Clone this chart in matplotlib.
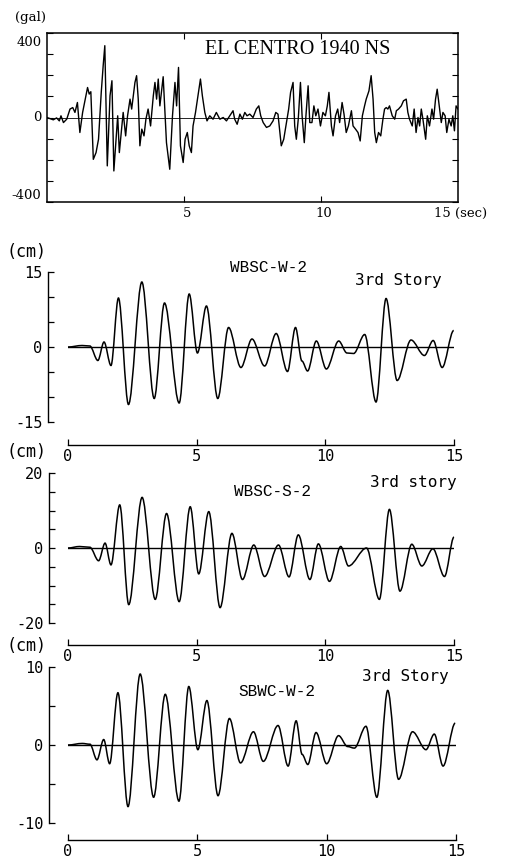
import numpy as np
import matplotlib
matplotlib.use("Agg")
import matplotlib.pyplot as plt
from matplotlib.path import Path
from matplotlib.patches import PathPatch

# ---------------- data ----------------
# EL CENTRO 1940 NS ground acceleration (gal)
acc_t = [0.00, 0.11, 0.23, 0.35, 0.45, 0.51, 0.60, 0.72, 0.84, 0.94, 1.02, 1.11, 1.20, 1.30,
         1.42, 1.48, 1.54, 1.60, 1.69, 1.79, 1.88, 1.98, 2.05, 2.11, 2.20, 2.30, 2.37, 2.44,
         2.52, 2.58, 2.64, 2.71, 2.78, 2.87, 2.94, 3.03, 3.09, 3.15, 3.21, 3.27, 3.33, 3.39,
         3.46, 3.54, 3.61, 3.69, 3.78, 3.88, 3.94, 4.00, 4.06, 4.12, 4.24, 4.36, 4.48, 4.58,
         4.67, 4.73, 4.80, 4.87, 4.97, 5.04, 5.12, 5.19, 5.27, 5.33, 5.42, 5.52, 5.60, 5.67,
         5.76, 5.84, 5.94, 6.06, 6.18, 6.31, 6.43, 6.55, 6.67, 6.79, 6.85, 6.94, 7.04, 7.13,
         7.22, 7.30, 7.40, 7.52, 7.64, 7.73, 7.80, 7.89, 8.01, 8.13, 8.25, 8.35, 8.43, 8.55,
         8.64, 8.74, 8.82, 8.89, 8.98, 9.04, 9.10, 9.17, 9.25, 9.31, 9.39, 9.45, 9.53, 9.59,
         9.67, 9.74, 9.81, 9.89, 9.98, 10.07, 10.16, 10.23, 10.29, 10.38, 10.44, 10.53, 10.61,
         10.68, 10.77, 10.84, 10.92, 11.00, 11.11, 11.17, 11.26, 11.35, 11.43, 11.51, 11.59,
         11.65, 11.75, 11.83, 11.90, 11.96, 12.02, 12.10, 12.18, 12.26, 12.32, 12.38, 12.44,
         12.50, 12.60, 12.69, 12.75, 12.83, 12.93, 13.01, 13.11, 13.17, 13.23, 13.33, 13.40,
         13.47, 13.54, 13.60, 13.66, 13.72, 13.82, 13.88, 13.96, 14.05, 14.11, 14.18, 14.24,
         14.33, 14.39, 14.45, 14.53, 14.59, 14.67, 14.75, 14.81, 14.87, 14.93, 15.00]
acc_v = [0, -5, -11, -2, -16, 8, -24, -8, 40, 47, 24, 71, -71, 24,
         103, 142, 111, 122, -198, -166, -103, 119, 245, 340, -229, 103, 174, -253,
         -103, 8, -166, -71, 24, -87, 8, 87, 40, 103, 166, 198, 87, -134,
         -55, -87, -8, 40, -40, 103, 166, 87, 182, 55, 193, -119, -245, 8,
         166, 55, 237, -134, -213, -103, -71, -134, -166, -40, 24, 111, 182, 103,
         24, -16, 8, -8, 24, -8, 0, -16, 8, 32, -8, -32, 16, -8,
         24, 8, 16, 0, 40, 55, 8, -24, -47, -40, -16, 24, 16, -134,
         -103, -24, 40, 119, 166, -40, -103, -8, 166, 8, -119, 8, 150, -24,
         -24, 55, 8, 40, -40, 24, 8, 55, 119, -40, -87, 8, 40,
         -24, 71, 16, -71, -40, 32, -40, -55, -71, -111, 8, 55,
         87, 126, 198, 87, -71, -119, -71, -87, -8, 40, 47, 40,
         55, 8, -8, 32, 40, 55, 79, 87, 24, -8, -40, 40,
         -71, 0, -40, 40, -8, -103, 8, -40, 40, -8, 87, 134,
         40, -24, 24, 8, -71, -8, -40, 8, -63, 55, 40]

# WBSC-W-2, 3rd Story displacement (cm): turning points
w2_t = [0.0, 0.55, 0.85, 1.16, 1.40, 1.67, 1.96, 2.35, 2.87, 3.35, 3.75, 4.32, 4.71, 5.03,
        5.38, 5.82, 6.24, 6.72, 7.15, 7.64, 8.09, 8.53, 8.84, 9.09, 9.31, 9.65, 10.04,
        10.52, 10.84, 11.10, 11.53, 11.97, 12.36, 12.79, 13.33, 13.85, 14.19, 14.54, 14.99]
w2_v = [0.0, 0.3, 0.2, -2.7, 1.0, -3.7, 9.8, -11.5, 13.0, -10.3, 8.8, -11.2, 10.6, -1.2,
        8.2, -10.3, 3.9, -4.1, 1.6, -3.8, 2.7, -4.9, 3.9, -2.8, -4.8, 1.2, -4.4,
        1.2, -1.2, -1.3, 2.5, -11.0, 9.7, -6.7, 1.4, -1.7, 1.3, -4.1, 3.3]

# WBSC-S-2, 3rd story displacement (cm): turning points
s2_t = [0.0, 0.45, 0.85, 1.19, 1.44, 1.67, 2.01, 2.36, 2.88, 3.39, 3.83, 4.32, 4.75, 5.08,
        5.47, 5.91, 6.37, 6.78, 7.22, 7.64, 8.18, 8.59, 8.95, 9.40, 9.73, 10.16, 10.60,
        10.90, 11.60, 12.10, 12.49, 12.90, 13.36, 13.75, 14.18, 14.63, 15.0]
s2_v = [0.0, 0.4, 0.2, -3.4, 1.3, -4.5, 11.5, -15.1, 13.5, -13.7, 9.2, -14.3, 11.0, -6.9,
        9.7, -15.9, 3.9, -8.4, 0.8, -7.6, 0.8, -7.7, 3.5, -8.4, 1.1, -8.9, 0.4,
        -4.8, 0.0, -13.7, 10.3, -11.5, 1.0, -4.8, -0.2, -7.6, 2.9]

# SBWC-W-2, 3rd Story displacement (cm): turning points
sb_t = [0.0, 0.55, 0.85, 1.12, 1.38, 1.61, 1.93, 2.32, 2.79, 3.31, 3.76, 4.29, 4.67, 5.02,
        5.37, 5.80, 6.24, 6.67, 7.17, 7.55, 8.12, 8.51, 8.82, 9.05, 9.27, 9.59, 10.00,
        10.46, 10.81, 11.07, 11.52, 11.94, 12.36, 12.78, 13.32, 13.84, 14.16, 14.50, 14.97]
sb_v = [0.0, 0.2, 0.1, -1.9, 0.7, -2.4, 6.7, -7.9, 9.1, -6.7, 6.5, -7.2, 7.5, -0.6,
        5.7, -6.5, 3.4, -2.3, 1.7, -2.1, 2.5, -2.7, 3.1, -1.2, -2.5, 1.6, -2.4,
        1.2, -0.2, -0.4, 2.4, -6.7, 7.0, -4.4, 1.7, -0.6, 1.4, -2.7, 2.8]

time_ticks = [0, 5, 10, 15]

# ---------------- figure ----------------
W, H = 526, 867
fig = plt.figure(figsize=(W / 100, H / 100), dpi=100)

SERIF = ["DejaVu Serif"]
MONO = ["DejaVu Sans Mono"]


def ax_px(l, t, r, b):
    return fig.add_axes([l / W, 1 - b / H, (r - l) / W, (b - t) / H])


def ftext(x, y, s, **kw):
    fig.text(x / W, 1 - y / H, s, **kw)


# ---- top: accelerogram ----
ax = ax_px(47, 33, 458, 202)
ax.set_xlim(0, 15)
ax.set_ylim(-400, 400)
ax.plot(acc_t, acc_v, color="black", lw=1.0)
ax.axhline(0, color="black", lw=0.6)
for sp in ax.spines.values():
    sp.set_linewidth(1.1)
ax.set_yticks(np.arange(-400, 401, 100))
ax.set_xticks([5, 10])
ax.tick_params(axis="y", direction="in", left=True, right=True, length=4,
               labelleft=False, width=0.8)
ax.tick_params(axis="x", direction="in", top=True, bottom=True, length=4,
               labelbottom=False, width=0.8)
for val, dy in [(400, -7), (0, 0), (-400, 5)]:
    ax.annotate(str(val), xy=(0, val), xytext=(-4, dy), textcoords="offset points",
                ha="right", va="center", fontsize=9.5, family=SERIF)
for val in [5, 10]:
    ax.annotate(str(val), xy=(val, -400), xytext=(2, -8), textcoords="offset points",
                ha="center", va="center", fontsize=9.5, family=SERIF)
ax.annotate("15 (sec)", xy=(15, -400), xytext=(-17, -8), textcoords="offset points",
            ha="left", va="center", fontsize=9.5, family=SERIF)
ax.text(0.61, 0.905, "EL CENTRO 1940 NS", transform=ax.transAxes, ha="center",
        va="center", fontsize=14.5, family=["Liberation Serif"])
ftext(30, 18, "(gal)", ha="center", va="center", fontsize=9.5, family=SERIF)


# ---- displacement panels ----
def smooth_path(t, v):
    verts = [(t[0], v[0])]
    codes = [Path.MOVETO]
    for i in range(len(t) - 1):
        dt = t[i + 1] - t[i]
        verts += [(t[i] + dt / 3, v[i]), (t[i + 1] - dt / 3, v[i + 1]), (t[i + 1], v[i + 1])]
        codes += [Path.CURVE4] * 3
    return Path(verts, codes)


def disp_panel(box, t, v, lim, left_out, bottom_out, name, name_xy, story, story_xy, cm_y):
    ax = ax_px(*box)
    ax.set_xlim(0, 15)
    ax.set_ylim(-lim, lim)
    ax.add_patch(PathPatch(smooth_path(t, v), fill=False, ec="black", lw=1.1,
                           clip_on=False))
    ax.axhline(0, color="black", lw=1.0)
    for s in ["top", "right"]:
        ax.spines[s].set_visible(False)
    ax.spines["left"].set_position(("outward", left_out * 0.72))
    ax.spines["bottom"].set_position(("outward", bottom_out * 0.72))
    ax.spines["left"].set_bounds(-lim, lim)
    ax.spines["bottom"].set_bounds(0, 15)
    ax.spines["left"].set_linewidth(1.0)
    ax.spines["bottom"].set_linewidth(1.0)
    yt = np.arange(-lim, lim + 1, 5)
    ax.set_yticks(yt)
    ax.set_yticklabels([(str(int(y)) if y in (-lim, 0, lim) else "") for y in yt],
                       family=MONO, fontsize=11)
    ax.set_xticks(time_ticks)
    ax.set_xticklabels([str(x) for x in time_ticks], family=MONO, fontsize=11)
    ax.tick_params(axis="y", direction="in", length=4, width=0.9, pad=4)
    ax.tick_params(axis="x", direction="in", length=4, width=0.9, pad=3)
    ftext(name_xy[0], name_xy[1], name, ha="center", va="center", fontsize=11.5,
          family=["Liberation Mono"])
    ftext(story_xy[0], story_xy[1], story, ha="center", va="center", fontsize=11.5,
          family=MONO)
    ftext(27, cm_y, "(cm)", ha="center", va="center", fontsize=12, family=MONO)
    return ax


disp_panel((68, 272, 454, 422), w2_t, w2_v, 15, 20, 23,
           "WBSC-W-2", (268, 268), "3rd Story", (398, 281), 252)
disp_panel((68, 473, 454, 623), s2_t, s2_v, 20, 19, 22,
           "WBSC-S-2", (273, 491), "3rd story", (413, 482), 452)
disp_panel((68, 667, 456, 823), sb_t, sb_v, 10, 19, 17,
           "SBWC-W-2", (277, 692), "3rd Story", (405, 676), 646)

fig.savefig("out.png", dpi=100)
